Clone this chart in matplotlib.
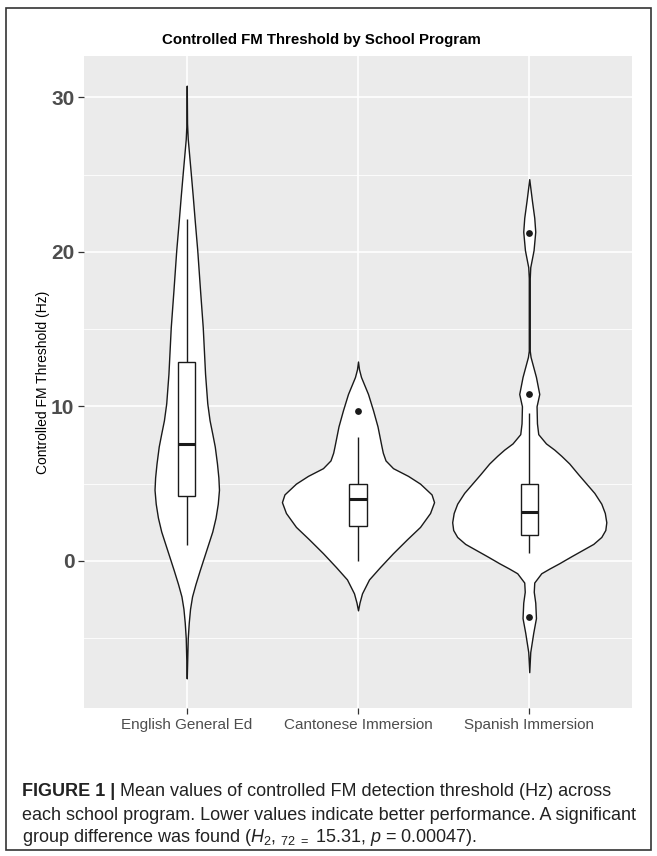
import matplotlib.pyplot as plt
from matplotlib.patches import Rectangle

plt.rcParams['font.family'] = ['Liberation Sans', 'DejaVu Sans']
plt.rcParams['mathtext.fontset'] = 'custom'
plt.rcParams['mathtext.rm'] = 'Liberation Sans'
plt.rcParams['mathtext.it'] = 'Liberation Sans:italic'
plt.rcParams['mathtext.bf'] = 'Liberation Sans:bold'

groups = ['English General Ed', 'Cantonese Immersion', 'Spanish Immersion']

# violin outlines: value and half width (relative)
english_y = [30.75, 28.3, 27.3, 26.2, 25.1, 23.6, 22.0, 20.1, 17.5, 15.1,
             12.1, 10.2, 9.1, 8.2, 7.4, 6.3, 5.4, 4.6, 3.7, 2.8, 1.9, 1.2,
             0.2, -0.6, -1.5, -2.3, -3.1, -4.0, -5.0, -6.3, -7.6]
english_w = [0, 0.3, 1.0, 2.5, 4.0, 6.0, 8.0, 10.5, 13.3, 16.0,
             18.3, 20.5, 22.8, 25.6, 28.0, 30.2, 31.6, 32.2, 31.0, 28.8,
             25.5, 22.0, 17.0, 13.0, 8.7, 5.3, 3.3, 2.0, 1.0, 0.5, 0]

cantonese_y = [12.9, 12.4, 11.9, 10.8, 9.75, 8.7, 7.4, 7.0, 6.5, 6.0, 5.5,
               5.0, 4.3, 3.8, 3.1, 2.2, 1.4, 0.5, -0.4, -1.2, -2.1, -2.7,
               -3.2]
cantonese_w = [0, 1, 3, 10, 15, 19.5, 23.5, 24.8, 27.5, 35, 50,
               62, 73.5, 76, 72, 62, 49, 35, 22, 11, 4, 1.5,
               0]

spanish_y = [24.7, 23.3, 22.2, 21.3, 20.1, 19.0, 18.3, 13.6, 13.2, 11.9,
             10.8, 10.0, 8.9, 8.2, 7.6, 7.2, 6.8, 6.3, 5.6, 5.0, 4.4, 3.7,
             3.1, 2.5, 2.0, 1.55, 1.1, 0.7, 0.3, -0.15, -0.5, -0.8, -1.4,
             -2.0, -2.7, -3.7, -4.65, -5.9, -7.2]
spanish_w = [0, 2.7, 5, 6, 4.3, 1, 0.5, 0.5, 1.3, 6.7,
             10, 7.3, 7.7, 9, 16.7, 25, 32, 40, 49, 57, 65, 72,
             75.5, 77, 76, 72, 64, 53, 42, 30, 20, 12, 5,
             4.5, 6, 6.7, 4, 1, 0]

violin_y = [english_y, cantonese_y, spanish_y]
violin_w = [english_w, cantonese_w, spanish_w]

# boxplot statistics
q1 = [4.2, 2.26, 1.65]
medians = [7.55, 4.0, 3.17]
q3 = [12.85, 4.97, 4.97]
whisker_lo = [1.03, 0.0, 0.5]
whisker_hi = [22.1, 8.0, 9.6]
outliers = [[], [9.7], [21.2, 10.8, -3.65]]

title = 'Controlled FM Threshold by School Program'
ylabel = 'Controlled FM Threshold (Hz)'

W, H = 657, 856
fig = plt.figure(figsize=(W / 100, H / 100), dpi=100)
fig.patch.set_facecolor('white')

ax = fig.add_axes([84 / W, 1 - 708 / H, (632 - 84) / W, (708 - 56) / H])
ax.set_facecolor('#EBEBEB')

# violins (ggplot-like area scaling: widest gets 0.45 half width)
wmax = max(max(w) for w in violin_w)
for i, (ys, ws) in enumerate(zip(violin_y, violin_w)):
    x = i + 1
    half = [w / wmax * 0.45 for w in ws]
    ax.fill_betweenx(ys, [x - h for h in half], [x + h for h in half],
                     facecolor='white', edgecolor='#1a1a1a', linewidth=1.0,
                     zorder=2)

# boxes
bw = 0.05
for i in range(len(groups)):
    x = i + 1
    ax.add_patch(Rectangle((x - bw, q1[i]), 2 * bw, q3[i] - q1[i],
                           facecolor='white', edgecolor='#1a1a1a',
                           linewidth=1.0, zorder=3))
    ax.vlines(x, q3[i], whisker_hi[i], color='#1a1a1a', lw=1.0, zorder=3)
    ax.vlines(x, whisker_lo[i], q1[i], color='#1a1a1a', lw=1.0, zorder=3)
    ax.hlines(medians[i], x - bw, x + bw, color='#1a1a1a', lw=2.2, zorder=4)
    if outliers[i]:
        ax.scatter([x] * len(outliers[i]), outliers[i], s=24,
                   color='#1a1a1a', zorder=5, linewidths=0)

# scales
lo = min(min(y) for y in violin_y)
hi = max(max(y) for y in violin_y)
pad = (hi - lo) * 0.05
ax.set_ylim(lo - pad, hi + pad)
ax.set_xlim(0.4, len(groups) + 0.6)
ax.set_xticks(range(1, len(groups) + 1))
ax.set_xticklabels(groups)
ax.set_yticks([0, 10, 20, 30])
ax.set_yticks([-5, 5, 15, 25], minor=True)

ax.grid(which='major', color='white', linewidth=1.2, zorder=0)
ax.grid(which='minor', axis='y', color='white', linewidth=0.6, zorder=0)
ax.set_axisbelow(True)
for s in ax.spines.values():
    s.set_visible(False)
ax.tick_params(axis='both', which='major', length=4, width=0.9,
               color='#333333', labelcolor='#4D4D4D')
ax.tick_params(axis='y', which='minor', length=0)
ax.tick_params(axis='x', labelsize=11, pad=3)
ax.tick_params(axis='y', labelsize=15, pad=3)
for lab in ax.get_yticklabels():
    lab.set_fontweight('bold')

ax.set_ylabel(ylabel, fontsize=10, color='black', labelpad=1)

fig.text(321 / W, 1 - 40 / H, title, ha='center', va='center',
         fontsize=10.8, fontweight='bold', color='black')

# outer frame
fig.add_artist(Rectangle((6 / W, 1 - 850 / H), (651 - 6) / W, (850 - 8) / H,
                         transform=fig.transFigure, fill=False,
                         edgecolor='#333333', linewidth=1.2))

# caption
cap_size = 13
t1 = fig.text(22 / W, 1 - 791 / H, 'FIGURE 1 |', ha='left', va='center',
              fontsize=cap_size, fontweight='bold', color='#222222')
ax.annotate(' Mean values of controlled FM detection threshold (Hz) across',
            xy=(1, 0.5), xycoords=t1, ha='left', va='center',
            fontsize=cap_size, color='#222222')
fig.text(22 / W, 1 - 815 / H,
         'each school program. Lower values indicate better performance. '
         'A significant', ha='left', va='center', fontsize=cap_size,
         color='#222222')
fig.text(22 / W, 1 - 838 / H,
         r'group difference was found ($H_2$, ${}_{72\ =}$ 15.31, $p$ = 0.00047).',
         ha='left', va='center', fontsize=cap_size, color='#222222')

fig.savefig('out.png', dpi=100)
